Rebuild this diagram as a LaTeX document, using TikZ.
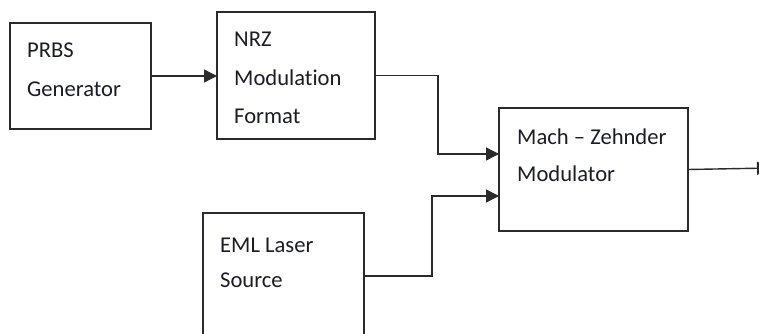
\documentclass[tikz,border=0pt]{standalone}
\usepackage{fontspec}
\setmainfont[Ligatures=NoCommon,RawFeature=-liga]{Carlito}
\usetikzlibrary{arrows.meta}
\definecolor{linec}{HTML}{2B2B2B}
\definecolor{textc}{HTML}{1C1C28}
\begin{document}
\begin{tikzpicture}[x=1pt,y=-1pt,
  box/.style={draw=linec,line width=1.4pt,rectangle,inner sep=0pt,outer sep=0pt},
  txt/.style={anchor=base west,inner sep=0pt,text=textc,font=\fontsize{22.6}{27}\selectfont},
  conn/.style={draw=linec,line width=1.4pt},
  arr/.style={conn,-{Triangle[length=13pt,width=13pt]}}]
\clip (0,0) rectangle (759,334);
\fill[white] (0,0) rectangle (759,334);
% boxes
\node[box,minimum width=141pt,minimum height=106pt] (prbs) at (80.5,76) {};
\node[box,minimum width=158pt,minimum height=127pt] (nrz) at (296,75.5) {};
\node[box,minimum width=189pt,minimum height=123pt] (mzm) at (593.5,169.5) {};
\node[box,minimum width=161pt,minimum height=132pt] (eml) at (283.5,279) {};
% texts
\node[txt] (t1) at (27,58) {PRBS};
\node[txt] (t2) at (27,96) {Generator};
\node[txt] (t3) at (234,47) {NRZ};
\node[txt] (t4) at (234,85) {Modulation};
\node[txt] (t5) at (234,123) {Format};
\node[txt] (t6) at (517,144) {Mach -- Zehnder};
\node[txt] (t7) at (517,181) {Modulator};
\node[txt] (t8) at (220,252) {EML Laser};
\node[txt] (t9) at (220,287) {Source};
% connectors
\coordinate (out) at (770,168);
\draw[arr] (prbs.east) -- (nrz.west |- prbs.east);
\draw[arr] (nrz.east) -- (438,75.5) |- ([yshift=15.5pt]mzm.west);
\draw[arr] ([yshift=3pt]eml.east) -- (432,276) |- ([yshift=-26.5pt]mzm.west);
\draw[arr] (mzm.east) -- (out);
\end{tikzpicture}
\end{document}
